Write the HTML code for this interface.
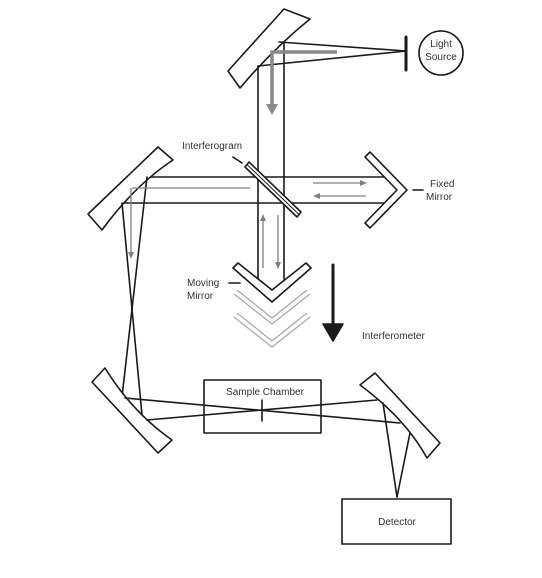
<!DOCTYPE html>
<html><head><meta charset="utf-8"><style>
html,body{margin:0;padding:0;background:#fff;}
svg{display:block;}
text{font-family:"Liberation Sans",sans-serif;font-size:10px;fill:#333;}
</style></head><body>
<svg width="542" height="578" viewBox="0 0 542 578" xmlns="http://www.w3.org/2000/svg">
<g fill="none" stroke="#1a1a1a" stroke-width="1.6" stroke-linejoin="round" stroke-linecap="round">
<path d="M228,71 L284,9 L310,19 Q274,48 240,88 Z" fill="#fff"/>
<line x1="279" y1="42" x2="406" y2="51"/>
<line x1="258" y1="66" x2="406" y2="51"/>
<line x1="406" y1="37" x2="406" y2="70" stroke-width="3"/>
<circle cx="441" cy="53" r="22"/>
<line x1="258" y1="66" x2="258" y2="279"/>
<line x1="284" y1="42" x2="284" y2="279"/>
<line x1="147" y1="177" x2="386" y2="177"/>
<line x1="122" y1="203" x2="386" y2="203"/>
<path d="M88,214 L158,147 L173,160 Q135,185 102,230 Z" fill="#fff"/>
<line x1="122" y1="203" x2="142" y2="415"/>
<line x1="147" y1="177" x2="122" y2="397"/>
<path d="M245,167 L249,162 L301,212 L297,217 Z" fill="#fff"/>
<line x1="247" y1="164.5" x2="299" y2="214.5" stroke-width="1"/>
<line x1="233" y1="157" x2="242" y2="163"/>
<path d="M365,157 L370,152 L407,190 L370,228 L365,223 L397,190 Z" fill="#fff"/>
<line x1="413" y1="190" x2="423" y2="190"/>
<path d="M233,268 L238,263 L272,290 L306,263 L311,268 L272,302 Z" fill="#fff"/>
<line x1="229" y1="283" x2="240" y2="283"/>
<line x1="333" y1="265" x2="333" y2="328" stroke-width="3"/>
<path d="M323,324 L343,324 L333,341 Z" fill="#1a1a1a"/>
<path d="M92,382 L105,368 Q132,412 172,440 L158,453 Z" fill="#fff"/>
<rect x="204" y="380" width="117" height="53"/>
<line x1="125" y1="398" x2="400" y2="423"/>
<line x1="147" y1="420" x2="377" y2="400"/>
<line x1="262" y1="400" x2="262" y2="421"/>
<path d="M360,385 L375,373 L440,443 L427,458 Q405,418 360,385 Z" fill="#fff"/>
<line x1="383" y1="403" x2="397" y2="497"/>
<line x1="410" y1="433" x2="397" y2="497"/>
<rect x="342" y="499" width="109" height="45"/>
</g>
<g fill="none" stroke="#808080" stroke-width="1.3">
<line x1="132" y1="188" x2="250" y2="188"/>
<line x1="131" y1="188" x2="131" y2="254"/>
<line x1="313" y1="183" x2="362" y2="183"/>
<line x1="318" y1="196" x2="366" y2="196"/>
<line x1="263" y1="220" x2="263" y2="268"/>
<line x1="278" y1="215" x2="278" y2="263"/>
</g>
<g fill="#808080">
<path d="M128,252 L134,252 L131,259 Z"/>
<path d="M360,180 L360,186 L367,183 Z"/>
<path d="M320,193 L320,199 L313,196 Z"/>
<path d="M260,221 L266,221 L263,214 Z"/>
<path d="M275,262 L281,262 L278,269 Z"/>
</g>
<g fill="none" stroke="#888" stroke-width="3.5" stroke-linejoin="miter">
<path d="M337,52 L272,52 L272,106"/>
</g>
<path d="M266,104 L278,104 L272,115 Z" fill="#888"/>
<g fill="none" stroke="#aaa" stroke-width="1.3" stroke-linejoin="miter">
<path d="M234,294 L272,324 L310,294"/>
<path d="M237,290 L272,318 L307,290"/>
<path d="M234,317 L272,347 L310,317"/>
<path d="M237,313 L272,341 L307,313"/>
</g>
<text x="182" y="149">Interferogram</text>
<text x="430" y="187">Fixed</text>
<text x="426" y="200">Mirror</text>
<text x="187" y="286">Moving</text>
<text x="187" y="299">Mirror</text>
<text x="362" y="339">Interferometer</text>
<text x="441" y="47" text-anchor="middle">Light</text>
<text x="441" y="60" text-anchor="middle">Source</text>
<text x="265" y="395" text-anchor="middle">Sample Chamber</text>
<text x="397" y="525" text-anchor="middle">Detector</text>
</svg>
</body></html>
